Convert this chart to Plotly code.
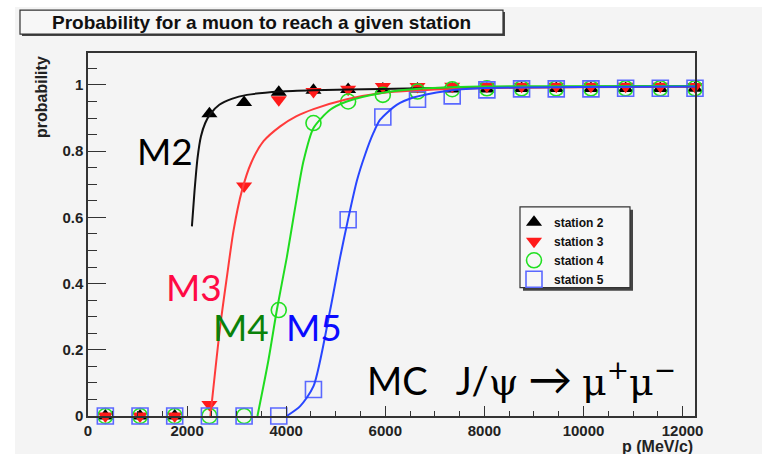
import plotly.graph_objects as go

# ---------------- data ----------------
p_bins = [350, 1050, 1750, 2450, 3150, 3850, 4550, 5250, 5950, 6650,
          7350, 8050, 8750, 9450, 10150, 10850, 11550, 12250]
station2 = [0, 0, 0, 0.913, 0.947, 0.978, 0.984, 0.986, 0.988, 0.988,
            0.988, 0.988, 0.989, 0.989, 0.989, 0.989, 0.989, 0.99]
station3 = [0, 0, 0, 0.035, 0.695, 0.955, 0.98, 0.987, 0.995, 0.995,
            0.996, 0.996, 0.996, 0.996, 0.996, 0.996, 0.996, 0.995]
station4 = [0, 0, 0, 0, 0, 0.32, 0.885, 0.95, 0.97, 0.98,
            0.987, 0.99, 0.99, 0.99, 0.99, 0.99, 0.99, 0.99]
station5 = [0, 0, 0, 0, 0, 0, 0.08, 0.593, 0.903, 0.957,
            0.967, 0.985, 0.988, 0.988, 0.988, 0.99, 0.99, 0.99]

# fitted curves
fit2_p = [2097, 2150, 2211, 2280, 2366, 2467, 2650, 2900, 3207, 3879, 4545, 5896, 7913, 12250]
fit2_y = [0.573, 0.68, 0.78, 0.845, 0.885, 0.912, 0.94, 0.958, 0.97, 0.98, 0.984, 0.988, 0.993, 0.995]
fit3_p = [2470, 2668, 2803, 2937, 3105, 3294, 3542, 3879, 4200, 4551, 5223, 5896, 6567, 7913, 12250]
fit3_y = [0.0, 0.271, 0.42, 0.56, 0.68, 0.765, 0.83, 0.875, 0.905, 0.927, 0.957, 0.975, 0.983, 0.99, 0.995]
fit4_p = [3420, 3643, 3812, 4013, 4181, 4349, 4551, 4887, 5223, 5896, 6567, 7913, 12250]
fit4_y = [0.0, 0.17, 0.321, 0.48, 0.63, 0.77, 0.87, 0.925, 0.95, 0.975, 0.987, 0.995, 0.997]
fit5_p = [4010, 4282, 4551, 4887, 5089, 5257, 5425, 5593, 5760, 5896, 6230, 6567, 7241, 7913, 12250]
fit5_y = [0.0, 0.03, 0.09, 0.32, 0.48, 0.6, 0.71, 0.79, 0.855, 0.895, 0.94, 0.962, 0.982, 0.99, 0.995]

x_tickvals = [0, 2000, 4000, 6000, 8000, 10000, 12000]
x_ticktext = ["0", "2000", "4000", "6000", "8000", "10000", "12000"]
y_tickvals = [0, 0.2, 0.4, 0.6, 0.8, 1.0]
y_ticktext = ["0", "0.2", "0.4", "0.6", "0.8", "1"]

series_names = ["station 2", "station 3", "station 4", "station 5"]

title_text = "Probability for a muon to reach a given station"
x_title = "p (MeV/c)"
y_title = "probability"

# ---------------- layout geometry (pixels) ----------------
W, H = 762, 454
L, R, T, B = 88, 695, 53, 416.5


def fx(px):
    return (px - L) / (R - L)


def fy(py):
    return (B - py) / (B - T)


BG = "#f4f4f4"
AX = "#333333"

fig = go.Figure()

marker_styles = [
    dict(symbol="triangle-up", size=14, color="black"),
    dict(symbol="triangle-down", size=14, color="#ff1a1a"),
    dict(symbol="circle-open", size=15, color="#22e022", line=dict(width=1.6)),
    dict(symbol="square-open", size=16, color="#5a68ff", line=dict(width=1.6)),
]
for name, vals, mk in zip(series_names, [station2, station3, station4, station5], marker_styles):
    fig.add_trace(go.Scatter(x=p_bins, y=vals, mode="markers", name=name,
                             marker=mk, cliponaxis=False))

fit_colors = ["#111111", "#ff3b3b", "#1fdc1f", "#2846ff"]
for fp, fv, c in zip([fit2_p, fit3_p, fit4_p, fit5_p], [fit2_y, fit3_y, fit4_y, fit5_y], fit_colors):
    fig.add_trace(go.Scatter(x=fp, y=fv, mode="lines", showlegend=False,
                             line=dict(color=c, width=2, shape="spline", smoothing=0.7),
                             hoverinfo="skip"))

shapes = [
    # white border strips of the original screenshot
    dict(type="rect", xref="paper", yref="paper", x0=fx(0), x1=fx(W), y0=fy(7), y1=fy(-2),
         fillcolor="white", line=dict(width=0), layer="below"),
    dict(type="rect", xref="paper", yref="paper", x0=fx(-2), x1=fx(15), y0=fy(H + 2), y1=fy(-2),
         fillcolor="white", line=dict(width=0), layer="below"),
    # title box shadow and box
    dict(type="rect", xref="paper", yref="paper", x0=fx(22), x1=fx(505), y0=fy(36), y1=fy(12),
         fillcolor="#444444", line=dict(width=0), layer="above"),
    dict(type="rect", xref="paper", yref="paper", x0=fx(20), x1=fx(503), y0=fy(34), y1=fy(10),
         fillcolor="#f7f7f7", line=dict(color=AX, width=1.2), layer="above"),
    # legend box shadow and box
    dict(type="rect", xref="paper", yref="paper", x0=fx(523), x1=fx(633), y0=fy(291), y1=fy(210),
         fillcolor="#444444", line=dict(width=0), layer="above"),
    dict(type="rect", xref="paper", yref="paper", x0=fx(520), x1=fx(630), y0=fy(288), y1=fy(207),
         fillcolor="#f7f7f7", line=dict(color=AX, width=1.2), layer="above"),
]

mc_text = ("MC\u00a0\u00a0\u00a0J/<span style=\"font-family:DejaVu Serif\">\u03c8</span>"
           "\u00a0<span style=\"font-size:44px\">\u2192</span>\u00a0"
           "<span style=\"font-family:DejaVu Serif\">\u03bc<sup>+</sup>\u03bc<sup>\u2212</sup></span>")

annotations = [
    dict(text="<b>" + title_text + "</b>", xref="paper", yref="paper", x=fx(261), y=fy(22),
         xanchor="center", yanchor="middle", showarrow=False,
         font=dict(family="Liberation Sans", size=19, color="#111111")),
    dict(text="<b>" + y_title + "</b>", xref="paper", yref="paper", x=fx(42), y=fy(54),
         xanchor="center", yanchor="top", textangle=-90, showarrow=False,
         font=dict(family="Liberation Sans", size=16, color="#222222")),
    dict(text="<b>" + x_title + "</b>", xref="paper", yref="paper", x=fx(695), y=fy(447),
         xanchor="right", yanchor="middle", showarrow=False,
         font=dict(family="Liberation Sans", size=16, color="#222222")),
    dict(text="M2", xref="paper", yref="paper", x=fx(165), y=fy(151), showarrow=False,
         xanchor="center", yanchor="middle", font=dict(family="Lato", size=37, color="black")),
    dict(text="M3", xref="paper", yref="paper", x=fx(194), y=fy(287), showarrow=False,
         xanchor="center", yanchor="middle", font=dict(family="Lato", size=37, color="#ff0a45")),
    dict(text="M4", xref="paper", yref="paper", x=fx(241), y=fy(327), showarrow=False,
         xanchor="center", yanchor="middle", font=dict(family="Lato", size=37, color="#0a820a")),
    dict(text="M5", xref="paper", yref="paper", x=fx(314), y=fy(327), showarrow=False,
         xanchor="center", yanchor="middle", font=dict(family="Lato", size=37, color="#0a0aff")),
    dict(text=mc_text, xref="paper", yref="paper", x=fx(365), y=fy(378), showarrow=False,
         xanchor="left", yanchor="middle", font=dict(family="Lato, DejaVu Sans", size=38, color="black")),
]

tickfont = dict(family="Liberation Sans", size=15, color="#222222", weight="bold")

fig.update_layout(
    width=W, height=H,
    margin=dict(l=L, r=W - R, t=T, b=H - B, pad=0),
    paper_bgcolor=BG, plot_bgcolor=BG,
    showlegend=True,
    legend=dict(x=fx(514), y=fy(208), xanchor="left", yanchor="top",
                bgcolor="rgba(0,0,0,0)", borderwidth=0,
                font=dict(family="Liberation Sans", size=12, color="#111111", weight="bold"),
                itemwidth=30, tracegroupgap=0),
    shapes=shapes,
    annotations=annotations,
    xaxis=dict(range=[0, 12250], showgrid=False, zeroline=False,
               showline=True, linecolor=AX, linewidth=1.5, mirror=True,
               ticks="inside", ticklen=10, tickwidth=1.3, tickcolor=AX,
               tickvals=x_tickvals, ticktext=x_ticktext, tickfont=tickfont,
               minor=dict(dtick=500, tick0=0, ticks="inside", ticklen=5, tickwidth=1, tickcolor=AX)),
    yaxis=dict(range=[0, 1.0965], showgrid=False, zeroline=False,
               showline=True, linecolor=AX, linewidth=1.5, mirror=True,
               ticks="inside", ticklen=18, tickwidth=1.3, tickcolor=AX,
               tickvals=y_tickvals, ticktext=y_ticktext, tickfont=tickfont,
               minor=dict(dtick=0.05, tick0=0, ticks="inside", ticklen=9, tickwidth=1, tickcolor=AX)),
)

fig.write_html("out.html")
